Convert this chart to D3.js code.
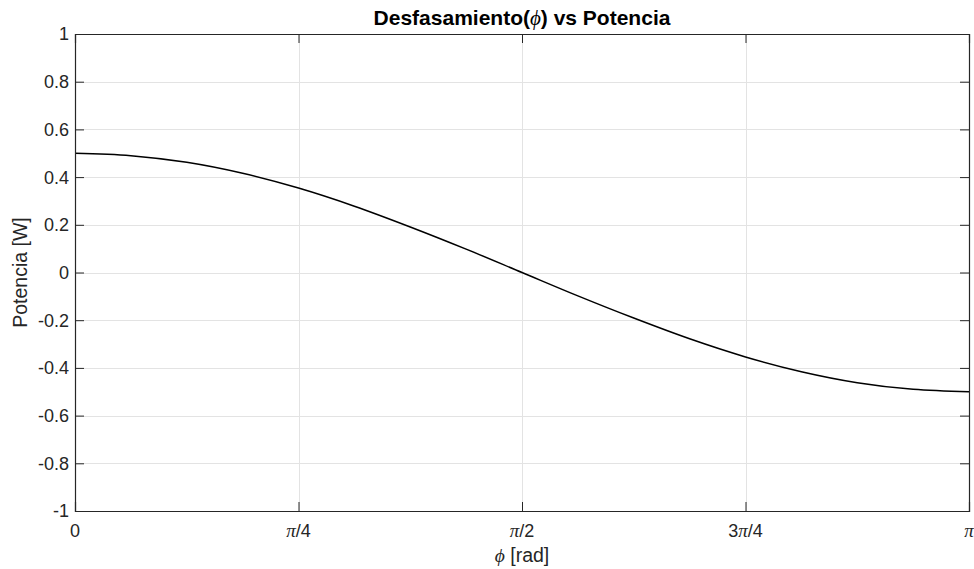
<!DOCTYPE html>
<html>
<head>
<meta charset="utf-8">
<script src="https://cdn.jsdelivr.net/npm/d3@7"></script>
<style>
  body { margin: 0; background: #fff; }
  svg { display: block; }
  text { font-family: "Liberation Sans", Arial, sans-serif; fill: #262626; }
</style>
</head>
<body>
<svg id="chart"></svg>
<script>
// phase values (multiples of pi/16) and power
const phiSteps = [0, 1, 2, 3, 4, 5, 6, 7, 8, 9, 10, 11, 12, 13, 14, 15, 16];
const potencia = [0.5, 0.49, 0.462, 0.416, 0.354, 0.278, 0.191, 0.098, 0,
                  -0.098, -0.191, -0.278, -0.354, -0.416, -0.462, -0.49, -0.5];
const xTickSteps = [0, 4, 8, 12, 16];
const xTickLabels = [['0'], ['π', '/4'], ['π', '/2'], ['3', 'π', '/4'], ['π']];
const yTicks = [-1, -0.8, -0.6, -0.4, -0.2, 0, 0.2, 0.4, 0.6, 0.8, 1];

const W = 974, H = 569;
const margin = { top: 34, right: 5, bottom: 58, left: 75 };
const greek = '"Liberation Serif", "DejaVu Serif", serif';

const svg = d3.select('#chart').attr('width', W).attr('height', H);

const x = d3.scaleLinear().domain([0, 16]).range([margin.left, W - margin.right]);
const y = d3.scaleLinear().domain([-1, 1]).range([H - margin.bottom, margin.top]);

const data = phiSteps.map((s, i) => ({ s, p: potencia[i] }));

// grid
const grid = svg.append('g').attr('class', 'grid');
grid.selectAll('line.gx')
    .data(xTickSteps.slice(1, -1))
    .enter()
    .append('line')
        .attr('x1', d => Math.round(x(d)) + 0.5)
        .attr('x2', d => Math.round(x(d)) + 0.5)
        .attr('y1', y(1))
        .attr('y2', y(-1))
        .attr('stroke', '#e3e3e3');
grid.selectAll('line.gy')
    .data(yTicks.slice(1, -1))
    .enter()
    .append('line')
        .attr('y1', d => Math.round(y(d)) + 0.5)
        .attr('y2', d => Math.round(y(d)) + 0.5)
        .attr('x1', x(0))
        .attr('x2', x(16))
        .attr('stroke', '#e3e3e3');

// curve
const line = d3.line()
    .x(d => x(d.s))
    .y(d => y(d.p))
    .curve(d3.curveMonotoneX);

svg.append('path')
    .datum(data)
    .attr('d', line)
    .attr('fill', 'none')
    .attr('stroke', '#000')
    .attr('stroke-width', 1.5);

// axes: ticks inward on all four sides
const tickLen = 9;
const axisColor = '#262626';
const xAxisB = d3.axisBottom(x).tickValues(xTickSteps).tickSize(-tickLen).tickFormat('');
const xAxisT = d3.axisTop(x).tickValues(xTickSteps).tickSize(-tickLen).tickFormat('');
const yAxisL = d3.axisLeft(y).tickValues(yTicks).tickSize(-tickLen).tickFormat('');
const yAxisR = d3.axisRight(y).tickValues(yTicks).tickSize(-tickLen).tickFormat('');

const axes = [
    [xAxisB, `translate(0,${y(-1)})`],
    [xAxisT, `translate(0,${y(1)})`],
    [yAxisL, `translate(${x(0)},0)`],
    [yAxisR, `translate(${x(16)},0)`]
];
axes.forEach(([ax, tr]) => {
    const g = svg.append('g').attr('transform', tr).call(ax);
    g.selectAll('path, line').attr('stroke', axisColor);
    g.select('.domain').attr('stroke-width', 1.2);
});

// y tick labels (plain hyphen minus like the original)
svg.append('g')
    .selectAll('text')
    .data(yTicks)
    .enter()
    .append('text')
        .attr('x', x(0) - 6)
        .attr('y', d => y(d))
        .attr('dy', '0.36em')
        .attr('text-anchor', 'end')
        .style('font-size', '18px')
        .text(d => String(d));

// x tick labels with italic pi
const xt = svg.append('g')
    .selectAll('text')
    .data(xTickSteps)
    .enter()
    .append('text')
        .attr('x', d => x(d))
        .attr('y', H - margin.bottom + 26)
        .attr('text-anchor', 'middle')
        .style('font-size', '18px');
xt.each(function (d, i) {
    const t = d3.select(this);
    xTickLabels[i].forEach(part => {
        const sp = t.append('tspan').text(part);
        if (part === 'π') {
            sp.style('font-family', greek).style('font-style', 'italic').style('font-size', '19px');
        }
    });
});

// title
const title = svg.append('text')
    .attr('x', (x(0) + x(16)) / 2)
    .attr('y', 25)
    .attr('text-anchor', 'middle')
    .style('font-size', '21px')
    .style('font-weight', 'bold')
    .style('fill', '#000');
title.append('tspan').text('Desfasamiento(');
title.append('tspan').text('ϕ')
    .style('font-family', greek).style('font-style', 'italic').style('font-weight', 'normal');
title.append('tspan').text(') vs Potencia');

// x label
const xl = svg.append('text')
    .attr('x', (x(0) + x(16)) / 2)
    .attr('y', 562)
    .attr('text-anchor', 'middle')
    .style('font-size', '19.5px');
xl.append('tspan').text('ϕ')
    .style('font-family', greek).style('font-style', 'italic');
xl.append('tspan').text(' [rad]');

// y label
svg.append('text')
    .attr('transform', `translate(27,${(y(1) + y(-1)) / 2}) rotate(-90)`)
    .attr('text-anchor', 'middle')
    .style('font-size', '19.5px')
    .text('Potencia [W]');
</script>
</body>
</html>
